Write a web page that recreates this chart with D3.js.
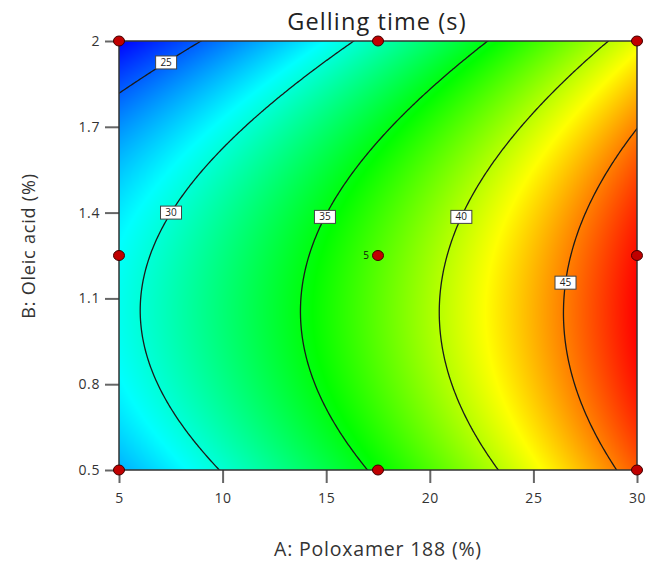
<!doctype html>
<meta charset="utf-8" />
<style>
    body { margin: 0; background: #fff; }
    text { font-family: "Open Sans", "Noto Sans", sans-serif; }
</style>
<svg></svg>

<script src="https://cdn.jsdelivr.net/npm/d3@7"></script>
<script>
    // factor ranges and ticks
    var aTicks = [5, 10, 15, 20, 25, 30];
    var bTicks = [0.5, 0.8, 1.1, 1.4, 1.7, 2];

    // coded model: Intercept, A, B, AB, A^2, B^2
    var termNames = ['Intercept', 'A', 'B', 'AB', 'A2', 'B2'];
    var coefs = [37.42, 9.38, -2.26, -0.065, 1.08, -4.30];

    var levels = [25, 30, 35, 40, 45];
    var labelB = [1.925, 1.40, 1.385, 1.385, 1.155];

    // design points
    var designA = [5, 17.5, 30, 5, 17.5, 30, 5, 17.5, 30];
    var designB = [2, 2, 2, 1.25, 1.25, 1.25, 0.5, 0.5, 0.5];
    var designReps = [1, 1, 1, 1, 5, 1, 1, 1, 1];

    var W = 649, H = 564;
    var x0 = 119, x1 = 637, y0 = 41, y1 = 470;

    var svg = d3.select('svg')
        .attr('width', W)
        .attr('height', H)

    var x = d3.scaleLinear().domain([5, 30]).range([x0, x1]);
    var y = d3.scaleLinear().domain([0.5, 2]).range([y1, y0]);

    function model(A, B) {
        var a = (A - 17.5) / 12.5, b = (B - 1.25) / 0.75;
        return coefs[0] + coefs[1] * a + coefs[2] * b + coefs[3] * a * b + coefs[4] * a * a + coefs[5] * b * b;
    }

    // grid for contours
    var nx = 260, ny = 220;
    var gx = d3.scaleLinear().domain([0, nx - 1]).range([5, 30]);
    var gy = d3.scaleLinear().domain([0, ny - 1]).range([2, 0.5]);
    var values = new Array(nx * ny);
    for (var j = 0; j < ny; j++) {
        for (var i = 0; i < nx; i++) {
            values[j * nx + i] = model(gx(i), gy(j));
        }
    }
    var vmin = d3.min(values), vmax = d3.max(values);
    var step = (vmax - vmin) / 4;
    var color = d3.scaleLinear()
        .domain([vmin, vmin + step, vmin + 2 * step, vmin + 3 * step, vmax])
        .range(['#0000ff', '#00ffff', '#00ff00', '#ffff00', '#ff0000'])
        .clamp(true);

    // shaded surface on a canvas
    var pw = x1 - x0, ph = y1 - y0;
    var canvas = document.createElement('canvas');
    canvas.width = pw;
    canvas.height = ph;
    var ctx = canvas.getContext('2d');
    var img = ctx.createImageData(pw, ph);
    for (var py = 0; py < ph; py++) {
        var B = y.invert(y0 + py + 0.5);
        for (var px = 0; px < pw; px++) {
            var A = x.invert(x0 + px + 0.5);
            var c = d3.rgb(color(model(A, B)));
            var k = (py * pw + px) * 4;
            img.data[k] = c.r;
            img.data[k + 1] = c.g;
            img.data[k + 2] = c.b;
            img.data[k + 3] = 255;
        }
    }
    ctx.putImageData(img, 0, 0);

    svg.append('image')
        .attr('x', x0)
        .attr('y', y0)
        .attr('width', pw)
        .attr('height', ph)
        .attr('preserveAspectRatio', 'none')
        .attr('href', canvas.toDataURL());

    svg.append('clipPath').attr('id', 'clip')
        .append('rect')
        .attr('x', x0).attr('y', y0)
        .attr('width', pw).attr('height', ph);

    // contour lines
    var contours = d3.contours().size([nx, ny]).thresholds(levels)(values);
    var proj = d3.geoTransform({
        point: function (px, py) {
            this.stream.point(x(gx(px - 0.5)), y(gy(py - 0.5)));
        }
    });
    svg.append('g')
        .attr('clip-path', 'url(#clip)')
        .selectAll('path')
        .data(contours)
        .join('path')
        .attr('d', d3.geoPath(proj))
        .style('fill', 'none')
        .style('stroke', '#1a1a1a')
        .style('stroke-width', 1.3);

    // contour labels
    function solveA(level, B) {
        var lo = 5, hi = 30;
        for (var n = 0; n < 60; n++) {
            var mid = (lo + hi) / 2;
            if (model(mid, B) < level) lo = mid; else hi = mid;
        }
        return (lo + hi) / 2;
    }
    var labels = svg.append('g')
        .selectAll('g')
        .data(levels)
        .join('g')
        .attr('transform', (d, i) => 'translate(' + x(solveA(d, labelB[i])) + ',' + y(labelB[i]) + ')');
    labels.append('rect')
        .attr('x', -10.5).attr('y', -6.5)
        .attr('width', 21).attr('height', 13)
        .style('fill', 'white')
        .style('stroke', '#444')
        .style('stroke-width', 1);
    labels.append('text')
        .attr('y', 0.5)
        .attr('text-anchor', 'middle')
        .attr('dominant-baseline', 'middle')
        .style('font-size', '10px')
        .style('fill', '#222')
        .text(d => d);

    // axes
    var gx_axis = svg.append('g')
        .attr('transform', 'translate(0,' + y1 + ')')
        .call(d3.axisBottom(x).tickValues(aTicks).tickSize(13).tickPadding(10).tickFormat(d3.format('d')));
    var gy_axis = svg.append('g')
        .attr('transform', 'translate(' + x0 + ',0)')
        .call(d3.axisLeft(y).tickValues(bTicks).tickSize(14).tickPadding(5).tickFormat(d => d === 2 ? '2' : d3.format('.1f')(d)));
    [gx_axis, gy_axis].forEach(function (g) {
        g.select('.domain').remove();
        g.selectAll('.tick line').style('stroke', '#666').style('stroke-width', 2);
        g.selectAll('.tick text').style('fill', '#333').style('font-size', '14px')
            .style('letter-spacing', '0.6px')
            .style('font-family', '"Open Sans", "Noto Sans", sans-serif');
    });

    // plot border
    svg.append('rect')
        .attr('x', x0).attr('y', y0)
        .attr('width', pw).attr('height', ph)
        .style('fill', 'none')
        .style('stroke', '#333')
        .style('stroke-width', 1.5);

    // design points
    var pts = svg.append('g')
        .selectAll('g')
        .data(designA.map((a, i) => ({ A: a, B: designB[i], n: designReps[i] })))
        .join('g');
    pts.append('ellipse')
        .attr('cx', d => x(d.A))
        .attr('cy', d => y(d.B))
        .attr('rx', 5.5).attr('ry', 5)
        .style('fill', '#c00000')
        .style('stroke', '#400000')
        .style('stroke-width', 1);
    pts.filter(d => d.n > 1).append('text')
        .attr('x', d => x(d.A) - 9)
        .attr('y', d => y(d.B) + 0.5)
        .attr('text-anchor', 'end')
        .attr('dominant-baseline', 'middle')
        .style('font-size', '10px')
        .style('fill', '#111')
        .text(d => d.n);

    // titles
    svg.append('text')
        .attr('x', 377).attr('y', 30)
        .attr('text-anchor', 'middle')
        .style('font-size', '23.5px')
        .style('letter-spacing', '1.1px')
        .style('fill', '#222')
        .text('Gelling time (s)');
    svg.append('text')
        .attr('x', 378).attr('y', 556)
        .attr('text-anchor', 'middle')
        .style('font-size', '19.5px')
        .style('letter-spacing', '0.8px')
        .style('fill', '#333')
        .text('A: Poloxamer 188 (%)');
    svg.append('text')
        .attr('transform', 'translate(35,246) rotate(-90)')
        .attr('text-anchor', 'middle')
        .style('font-size', '18px')
        .style('letter-spacing', '0.8px')
        .style('fill', '#333')
        .text('B: Oleic acid (%)');
</script>
